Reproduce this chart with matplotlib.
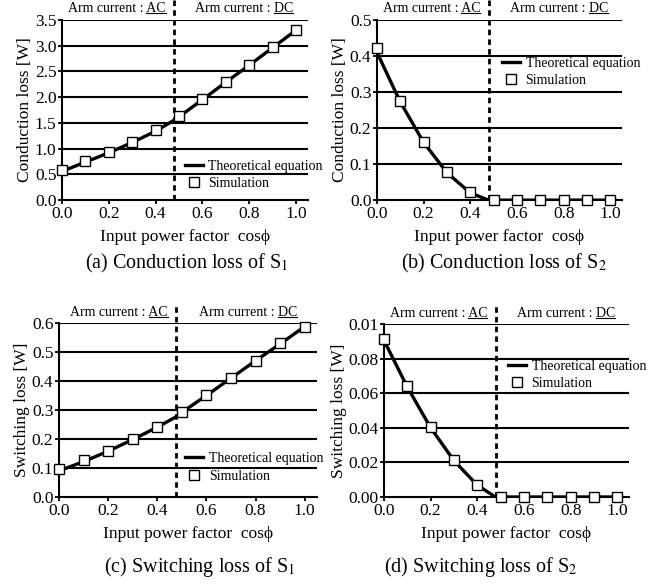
import matplotlib
matplotlib.use('Agg')
import matplotlib.pyplot as plt
from matplotlib.lines import Line2D

plt.rcParams['font.family'] = ['Liberation Serif', 'DejaVu Serif']
plt.rcParams['mathtext.fontset'] = 'stix'

pf = [0.0, 0.1, 0.2, 0.3, 0.4, 0.5, 0.6, 0.7, 0.8, 0.9, 1.0]
boundary = 0.478

# theoretical curve points (x, y)
th_x = [0.0, 0.1, 0.2, 0.3, 0.4, 0.478, 0.5, 0.6, 0.7, 0.8, 0.9, 1.0]

cond_s1_sim = [0.58, 0.76, 0.93, 1.13, 1.36, 1.64, 1.96, 2.30, 2.62, 2.97, 3.30]
cond_s1_th = [0.56, 0.74, 0.92, 1.12, 1.34, 1.55, 1.62, 1.95, 2.29, 2.62, 2.96, 3.30]

cond_s2_sim = [0.423, 0.276, 0.162, 0.077, 0.022, 0.0, 0.0, 0.0, 0.0, 0.0, 0.0]
cond_s2_th = [0.41, 0.272, 0.160, 0.076, 0.020, 0.0, 0.0, 0.0, 0.0, 0.0, 0.0, 0.0]

sw_s1_sim = [0.095, 0.126, 0.159, 0.200, 0.243, 0.294, 0.353, 0.412, 0.468, 0.530, 0.588]
sw_s1_th = [0.090, 0.122, 0.158, 0.198, 0.241, 0.277, 0.292, 0.350, 0.410, 0.470, 0.528, 0.588]

sw_s2_sim = [0.0911, 0.0641, 0.0402, 0.0212, 0.0071, 0.0, 0.0, 0.0, 0.0, 0.0, 0.0]
sw_s2_th = [0.0905, 0.0635, 0.0400, 0.0210, 0.0068, 0.0, 0.0, 0.0, 0.0, 0.0, 0.0, 0.0]

panels = [
    dict(rect=[0.0947, 0.659, 0.375, 0.307], sim=cond_s1_sim, th=cond_s1_th,
         ylim=(0, 3.5), yticks=[0, 0.5, 1.0, 1.5, 2.0, 2.5, 3.0, 3.5],
         ylabels=['0.0', '0.5', '1.0', '1.5', '2.0', '2.5', '3.0', '3.5'],
         ylabel='Conduction loss [W]', legloc=(0.5, 0.14),
         caption='(a) Conduction loss of S$_1$', cappos=(187, 263)),
    dict(rect=[0.5756, 0.659, 0.374, 0.307], sim=cond_s2_sim, th=cond_s2_th,
         ylim=(0, 0.5), yticks=[0, 0.1, 0.2, 0.3, 0.4, 0.5],
         ylabels=['0.0', '0.1', '0.2', '0.3', '0.4', '0.5'],
         ylabel='Conduction loss [W]', legloc=(0.51, 0.71),
         caption='(b) Conduction loss of S$_2$', cappos=(504, 263)),
    dict(rect=[0.090, 0.1533, 0.394, 0.2964], sim=sw_s1_sim, th=sw_s1_th,
         ylim=(0, 0.6), yticks=[0, 0.1, 0.2, 0.3, 0.4, 0.5, 0.6],
         ylabels=['0.0', '0.1', '0.2', '0.3', '0.4', '0.5', '0.6'],
         ylabel='Switching loss [W]', legloc=(0.49, 0.17),
         caption='(c) Switching loss of S$_1$', cappos=(200, 567)),
    dict(rect=[0.5863, 0.1533, 0.374, 0.2947], sim=sw_s2_sim, th=sw_s2_th,
         ylim=(0, 0.1), yticks=[0, 0.02, 0.04, 0.06, 0.08, 0.1],
         ylabels=['0.00', '0.02', '0.04', '0.06', '0.08', '0.01'],
         ylabel='Switching loss [W]', legloc=(0.506, 0.705),
         caption='(d) Switching loss of S$_2$', cappos=(481, 567)),
]

W, H = 655, 587
fig = plt.figure(figsize=(W / 100, H / 100), dpi=100)
underlined = []  # (text artist, underlined tail)

for p in panels:
    ax = fig.add_axes(p['rect'])
    for yt in p['yticks'][1:]:
        ax.axhline(yt, color='black', lw=1.5, zorder=1)
    th_line, = ax.plot(th_x, p['th'], color='black', lw=2.4, zorder=3,
                       label='Theoretical equation')
    sim_pts, = ax.plot(pf, p['sim'], ls='none', marker='s', ms=7.8, mfc='white',
                       mec='black', mew=1.0, zorder=4, clip_on=False,
                       label='Simulation')
    ax.set_xlim(0, 1.05)
    ax.set_ylim(*p['ylim'])
    ax.set_xticks([0, 0.2, 0.4, 0.6, 0.8, 1.0])
    ax.set_xticklabels(['0.0', '0.2', '0.4', '0.6', '0.8', '1.0'])
    ax.set_yticks(p['yticks'])
    ax.set_yticklabels(p['ylabels'])
    ax.tick_params(direction='out', length=3, width=1.3, labelsize=12.5, pad=1)
    for s in ['top', 'right']:
        ax.spines[s].set_visible(False)
    for s in ['left', 'bottom']:
        ax.spines[s].set_linewidth(1.5)
    ax.set_xlabel('Input power factor  cos\u03d5', fontsize=12.5, labelpad=5.5)
    ax.set_ylabel(p['ylabel'], fontsize=12.5, labelpad=1)
    ax.plot([boundary, boundary], [0, 1.115], transform=ax.get_xaxis_transform(),
            color='black', lw=2, ls=(0, (2, 1.5)), clip_on=False, zorder=2)
    t1 = ax.text(boundary - 0.035, 1.025, 'Arm current : AC',
                 transform=ax.get_xaxis_transform(), ha='right', va='bottom', fontsize=10)
    t2 = ax.text(boundary + 0.09, 1.025, 'Arm current : DC',
                 transform=ax.get_xaxis_transform(), ha='left', va='bottom', fontsize=10)
    underlined += [(t1, 'AC'), (t2, 'DC')]
    ax.legend(handles=[th_line, sim_pts], loc='center left', bbox_to_anchor=p['legloc'],
              frameon=False, fontsize=10, handlelength=1.3, handletextpad=0.4,
              labelspacing=0.3, borderaxespad=0, borderpad=0)
    fig.text(p['cappos'][0] / W, 1 - p['cappos'][1] / H, p['caption'],
             ha='center', va='center', fontsize=14.5)

# underline the AC / DC words
fig.canvas.draw()
r = fig.canvas.get_renderer()
inv = fig.transFigure.inverted()
for t, tail in underlined:
    bb = t.get_window_extent(r)
    tmp = fig.text(0, 0, tail, fontsize=t.get_fontsize())
    w = tmp.get_window_extent(r).width
    tmp.remove()
    y = bb.y0 + 2.0
    (fx0, fy), (fx1, _) = inv.transform([(bb.x1 - w, y), (bb.x1, y)])
    fig.add_artist(Line2D([fx0, fx1], [fy, fy], color='black', lw=0.8,
                          transform=fig.transFigure))

fig.savefig('out.png', dpi=100)
